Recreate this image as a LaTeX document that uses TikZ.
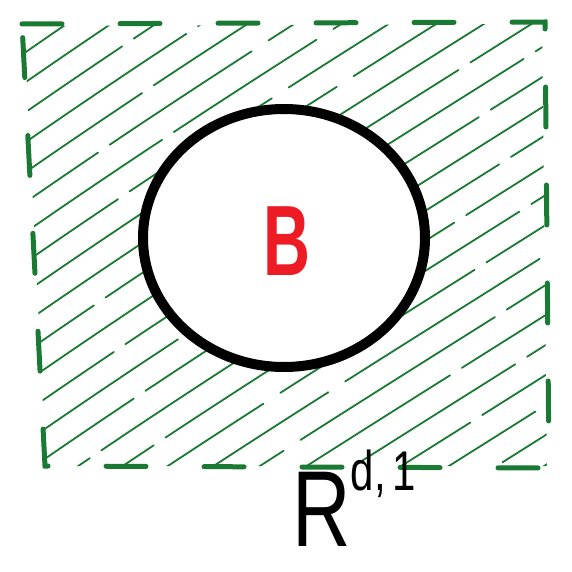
\documentclass[tikz,border=0pt]{standalone}
\usepackage{fontspec}
\setmainfont{Liberation Sans}
\definecolor{hgreen}{HTML}{1A7A34}
\definecolor{bred}{HTML}{ED1C24}
\begin{document}
\begin{tikzpicture}[x=1pt,y=-1pt,
  hatch/.style={hgreen,line width=1.8pt,line cap=round},
  frame/.style={hgreen,line width=5pt,line cap=round,dash pattern=on 40pt off 58pt},
  ring/.style={black,line width=10pt}]
\useasboundingbox (0,0) rectangle (571,572);
% hatching inside the square
\begin{scope}
  \clip (24,26) -- (542,24) -- (547,466) -- (46,466) -- cycle;
  \foreach \c [count=\i] in {40,70,100,130,160,190,220,250,280,310,340,370,400,430,460,490,520,550,580,610,640,670,700,730,760,790,820} {
    \pgfmathsetmacro{\off}{mod(\i*53,130)}
    \draw[hatch,dash pattern=on 230pt off 14pt on 170pt off 20pt,dash phase=\off pt]
      (0,\c) .. controls (200,\c-140) and (380,\c-250) .. (571,\c-371);
  }
\end{scope}
% white disc and circle
\fill[white] (284,238) ellipse [x radius=141, y radius=129];
\draw[ring] (284,238) ellipse [x radius=141, y radius=129];
% dashed frame
\coordinate (tl) at (22,24);
\coordinate (tr) at (545,22);
\coordinate (br) at (549,468);
\coordinate (bl) at (45,466);
\draw[frame] (tl) -- (tr) -- (br) -- (bl) -- cycle;
% labels
\node[text=bred,font=\bfseries\fontsize{100}{100}\selectfont,xscale=0.65] (B) at (287,241) {B};
\node[anchor=base west,inner sep=0pt,xscale=0.75,font=\fontsize{108}{108}\selectfont] (R) at (292,546)
  {R\raisebox{56pt}{\fontsize{56}{56}\selectfont d,\,1}};
\end{tikzpicture}
\end{document}
